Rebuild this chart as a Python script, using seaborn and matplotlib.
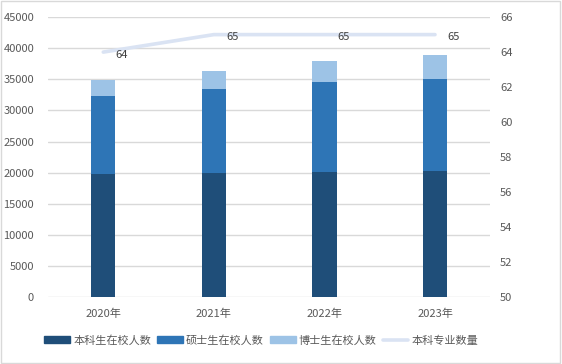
import seaborn as sns
import matplotlib.pyplot as plt
import pandas as pd
from matplotlib.patches import Patch, Rectangle
from matplotlib.lines import Line2D

# data
years = ['2020年', '2021年', '2022年', '2023年']
undergrad = [19800, 19950, 20100, 20250]
master = [12500, 13500, 14450, 14800]
doctor = [2600, 2850, 3400, 3850]
majors = [64, 65, 65, 65]

series_names = ['本科生在校人数', '硕士生在校人数', '博士生在校人数', '本科专业数量']
colors = ['#1f4e79', '#2e75b6', '#9dc3e6']
line_color = '#dae3f3'

df = pd.DataFrame({'year': years, 'under': undergrad, 'master': master,
                   'doctor': doctor, 'majors': majors})
df['lvl2'] = df['under'] + df['master']
df['lvl3'] = df['lvl2'] + df['doctor']

sns.set_style('white')
plt.rcParams['font.family'] = ['Noto Sans CJK SC', 'DejaVu Sans']

fig = plt.figure(figsize=(5.62, 3.64), dpi=100)
ax = fig.add_axes([0.0854, 0.184, 0.787, 0.769])

# stacked bars: draw tallest first
for col, c in zip(['lvl3', 'lvl2', 'under'], colors[::-1]):
    sns.barplot(data=df, x='year', y=col, color=c, width=0.22, ax=ax,
                saturation=1, linewidth=0, zorder=2)

ax.set_ylim(0, 45000)
ax.set_yticks(range(0, 45001, 5000))
ax.set_xlim(-0.5, 3.5)
ax.set_xlabel('')
ax.set_ylabel('')
ax.yaxis.grid(True, color='#d9d9d9', lw=1, zorder=0)
ax.set_axisbelow(True)
for s in ax.spines.values():
    s.set_visible(False)
ax.tick_params(axis='both', length=0, labelsize=8, labelcolor='#595959')
ax.tick_params(axis='x', pad=8)
ax.tick_params(axis='y', pad=10)

ax2 = ax.twinx()
sns.lineplot(x=range(len(years)), y=majors, color=line_color, lw=2.6,
             ax=ax2, zorder=3)
ax2.set_ylim(50, 66)
ax2.set_yticks(range(50, 67, 2))
for s in ax2.spines.values():
    s.set_visible(False)
ax2.tick_params(axis='y', length=0, labelsize=8, labelcolor='#595959', pad=7)
for i, v in enumerate(majors):
    ax2.annotate(str(v), (i, v), xytext=(9, -2), textcoords='offset points',
                 ha='left', va='center', fontsize=8, color='#404040')

handles = [Patch(color=c) for c in colors] + [Line2D([], [], color=line_color, lw=2.6)]
fig.legend(handles, series_names, loc='center', bbox_to_anchor=(0.465, 0.065),
           ncol=4, frameon=False, fontsize=8, handlelength=2.3, handleheight=0.55,
           handletextpad=0.3, columnspacing=0.55, labelcolor='#595959')

fig.patches.append(Rectangle((0.002, 0.003), 0.995, 0.994, transform=fig.transFigure,
                             fill=False, edgecolor='#d9d9d9', lw=1))

fig.savefig('out.png', dpi=100)
